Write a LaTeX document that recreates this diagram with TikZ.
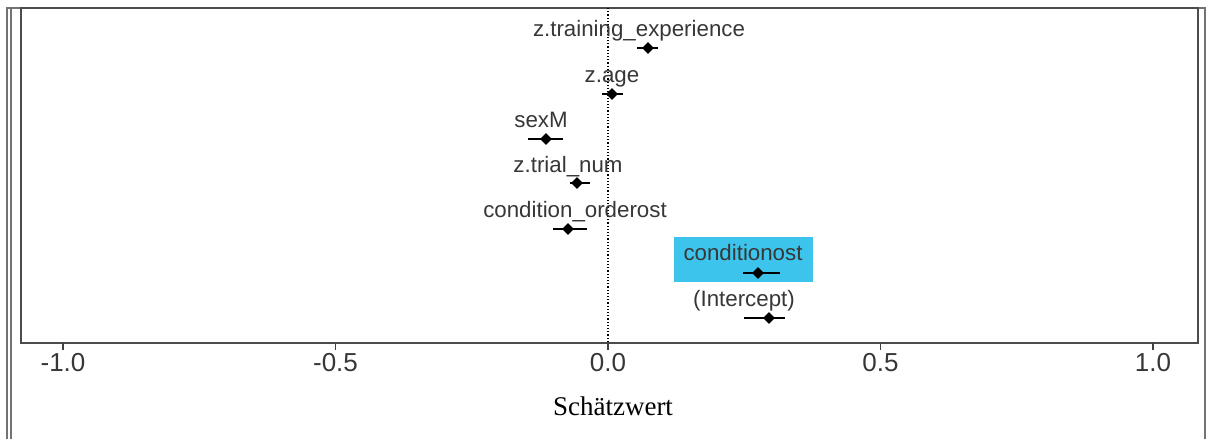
\documentclass[tikz,border=0pt]{standalone}
\usepackage{fontspec}
\setmainfont{Liberation Serif}
\setsansfont{Liberation Sans}
\usetikzlibrary{shapes.geometric}
\definecolor{hlblue}{RGB}{60,196,236}
\definecolor{inkgray}{RGB}{55,55,55}

\begin{document}
\begin{tikzpicture}[x=1pt,y=-1pt,
	framebox/.style={draw=black!70, line width=1.2pt},
	coeflab/.style={font=\sffamily\fontsize{22.3}{25}\selectfont, text=inkgray, inner sep=0pt, text height=16pt, text depth=5pt},
	ticklab/.style={font=\sffamily\fontsize{26}{30}\selectfont, text=inkgray, inner sep=0pt},
	estdot/.style={diamond, fill=black, inner sep=0pt, minimum size=12pt},
	ciline/.style={draw=black, line width=1.6pt}]
	\useasboundingbox (0,0) rectangle (1209,439);
	\pgfmathsetmacro{\xzero}{608} % position of 0.0
	\pgfmathsetmacro{\xunit}{545} % pixels per unit
	
	% outer frame
	\draw[framebox, draw=black!55] (7,439) -- (7,8) -- (1205,8) -- (1205,439);
	\draw[framebox, draw=black!55] (11,439) -- (11,8);
	
	% highlight behind conditionost
	\fill[hlblue] (674,237) rectangle (813,282);
	
	% plot box and zero line
	\draw[framebox] (21,8) rectangle (1198,343);
	\draw[dotted, line width=1.2pt] (\xzero,8) -- (\xzero,343);
	
	% ticks and tick labels
	\foreach \v in {-1.0,-0.5,0.0,0.5,1.0} {
		\draw[line width=1.2pt, black!75] ({\xzero+\xunit*\v},343) -- ++(0,7);
		\node[ticklab] (tick\v) at ({\xzero+\xunit*\v},363) {\v};
	}
	\node[font=\fontsize{27}{30}\selectfont, inner sep=0pt] (xtitle) at (613,406) {Schätzwert};
	
	% coefficients: name / label / label x / label y / estimate / lower / upper / y
	\foreach \n/\lab/\lx/\ly/\est/\lo/\hi/\y in {
		train/z.training\_experience/639/31/648/637/658/48,
		age/z.age/612/77/612/602/623/94,
		sex/sexM/541/122/546/528/563/139,
		trial/z.trial\_num/568/167/577/570/590/183,
		order/condition\_orderost/575/212/568/553/587/229,
		cond/conditionost/743/255/758/743/780/273,
		icpt/(Intercept)/744/301/769/744/785/318} {
		\node[coeflab] (lab-\n) at (\lx,\ly) {\lab};
		\coordinate (lo-\n) at (\lo,\y);
		\coordinate (hi-\n) at (\hi,\y);
		\draw[ciline] (lo-\n) -- (hi-\n);
		\node[estdot] (est-\n) at (\est,\y) {};
	}
	
\end{tikzpicture}
\end{document}
